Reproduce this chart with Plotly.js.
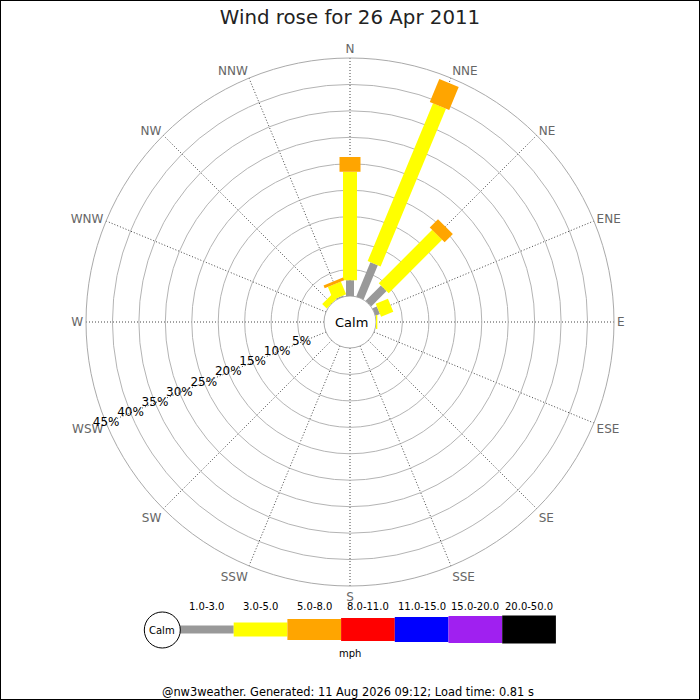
<!DOCTYPE html>
<html>
<head>
<meta charset="utf-8">
<script src="https://cdn.plot.ly/plotly-3.0.1.min.js"></script>
<style>html,body{margin:0;padding:0;background:#fff;}#chart{width:700px;height:700px;}</style>
</head>
<body>
<div id="chart"></div>
<script>
// ---- data ----
var directions = ['N','NNE','NE','ENE','E','ESE','SE','SSE','S','SSW','SW','WSW','W','WNW','NW','NNW'];
var binLabels = ['1.0-3.0','3.0-5.0','5.0-8.0','8.0-11.0','11.0-15.0','15.0-20.0','20.0-50.0'];
var speed1to3   = [3.0, 7.0, 4.1, 0.9, 0,    0,0,0,0,0,0,0,0,0, 0,   0.2];
var speed3to5   = [20.5,32.3,14.3,2.5, 0.25, 0,0,0,0,0,0,0,0,0, 1.2, 2.6];
var speed5to8   = [2.8, 4.7, 2.2, 0,   0,    0,0,0,0,0,0,0,0,0, 0,   0.55];
var speed8to11  = [0,0,0,0,0,0,0,0,0,0,0,0,0,0,0,0];
var speed11to15 = [0,0,0,0,0,0,0,0,0,0,0,0,0,0,0,0];
var speed15to20 = [0,0,0,0,0,0,0,0,0,0,0,0,0,0,0,0];
var speed20to50 = [0,0,0,0,0,0,0,0,0,0,0,0,0,0,0,0];
var ringPct = [5,10,15,20,25,30,35,40,45];
var titleText = 'Wind rose for 26 Apr 2011';
var unitText = 'mph';
var footerText = '@nw3weather. Generated: 11 Aug 2026 09:12; Load time: 0.81 s';

// ---- styles ----
var binColors = ['#999999','#ffff00','#ffa500','#ff0000','#0000ff','#a020f0','#000000'];
var binWidths = [8, 14, 21, 23, 25, 27, 28];
var FONT = 'DejaVu Sans, Verdana, sans-serif';

var bins = [speed1to3, speed3to5, speed5to8, speed8to11, speed11to15, speed15to20, speed20to50];
var step = 360 / directions.length;
var thetaVals = directions.map(function(d,i){ return i*step; });

var traces = [];
var base = directions.map(function(){ return 0; });
bins.forEach(function(vals, b){
  var r = [], th = [];
  vals.forEach(function(v, d){
    if (v > 0) {
      r.push(base[d], base[d] + v, null);
      th.push(thetaVals[d], thetaVals[d], null);
      base[d] += v;
    }
  });
  if (r.length) {
    traces.push({
      type: 'scatterpolar', mode: 'lines', r: r, theta: th,
      connectgaps: false, hoverinfo: 'skip', showlegend: false,
      line: {color: binColors[b], width: binWidths[b]}
    });
  }
});

// radial percentage labels along WSW
traces.push({
  type: 'scatterpolar', mode: 'text',
  r: ringPct, theta: ringPct.map(function(){ return 247.5; }),
  text: ringPct.map(function(p){ return p + '%'; }),
  textposition: 'middle center', cliponaxis: false,
  textfont: {family: FONT, size: 12, color: '#000'},
  hoverinfo: 'skip', showlegend: false
});

// ---- legend (shapes in pixel space) ----
function px(x){ return x/700; }
function py(y){ return 1 - y/700; }
var shapes = [];
var annotations = [];
function note(x, y, text, size){
  annotations.push({xref:'paper', yref:'paper', x: px(x), y: py(y), text: text,
    showarrow: false, xanchor: 'center', yanchor: 'middle',
    font: {family: FONT, size: size, color: '#000'}});
}
var legLeft = 180, segW = 53.7, legY = 629.5;
binLabels.forEach(function(lab, i){
  var h = binWidths[i];
  shapes.push({type:'rect', xref:'paper', yref:'paper',
    x0: px(legLeft + i*segW), x1: px(legLeft + (i+1)*segW),
    y0: py(legY + h/2), y1: py(legY - h/2),
    fillcolor: binColors[i], line: {width: 0}});
  note(legLeft + (i+0.5)*segW, 606.5, lab, 10);
});
shapes.push({type:'circle', xref:'paper', yref:'paper',
  x0: px(162.3-18), x1: px(162.3+18), y0: py(630+18), y1: py(630-18),
  fillcolor: '#fff', line: {color: '#000', width: 1}});
note(162.3, 630, 'Calm', 10);
note(350.5, 653, unitText, 10);
note(348, 692, footerText, 11.4);
note(351, 322, 'Calm', 13);
// frame
shapes.push({type:'rect', xref:'paper', yref:'paper', x0:0, x1:1, y0:0, y1:1,
  line:{color:'#000', width:2}, fillcolor:'rgba(0,0,0,0)'});

var layout = {
  width: 700, height: 700,
  margin: {l:0, r:0, t:0, b:0},
  paper_bgcolor: '#fff',
  showlegend: false,
  title: {text: titleText, x: 0.5, xanchor: 'center', y: 1 - 17/700, yanchor: 'middle',
    font: {family: FONT, size: 19.8, color: '#222'}},
  polar: {
    domain: {x: [86/700, 614/700], y: [1 - 586/700, 1 - 58/700]},
    hole: 26/264,
    bgcolor: '#fff',
    radialaxis: {range: [0, 45], tickmode: 'array', tickvals: [0].concat(ringPct),
      showticklabels: false, ticks: '', showline: false,
      gridcolor: '#b4b4b4', gridwidth: 1, layer: 'below traces'},
    angularaxis: {rotation: 90, direction: 'clockwise', tickmode: 'array',
      tickvals: thetaVals, ticktext: directions, ticks: '',
      showline: true, linecolor: '#aaaaaa', linewidth: 1,
      showgrid: true, gridcolor: '#444', gridwidth: 1, griddash: '1px,2px',
      tickfont: {family: FONT, size: 12, color: '#666'}, layer: 'below traces'}
  },
  shapes: shapes,
  annotations: annotations
};

Plotly.newPlot('chart', traces, layout, {displayModeBar: false, staticPlot: true});
</script>
</body>
</html>
